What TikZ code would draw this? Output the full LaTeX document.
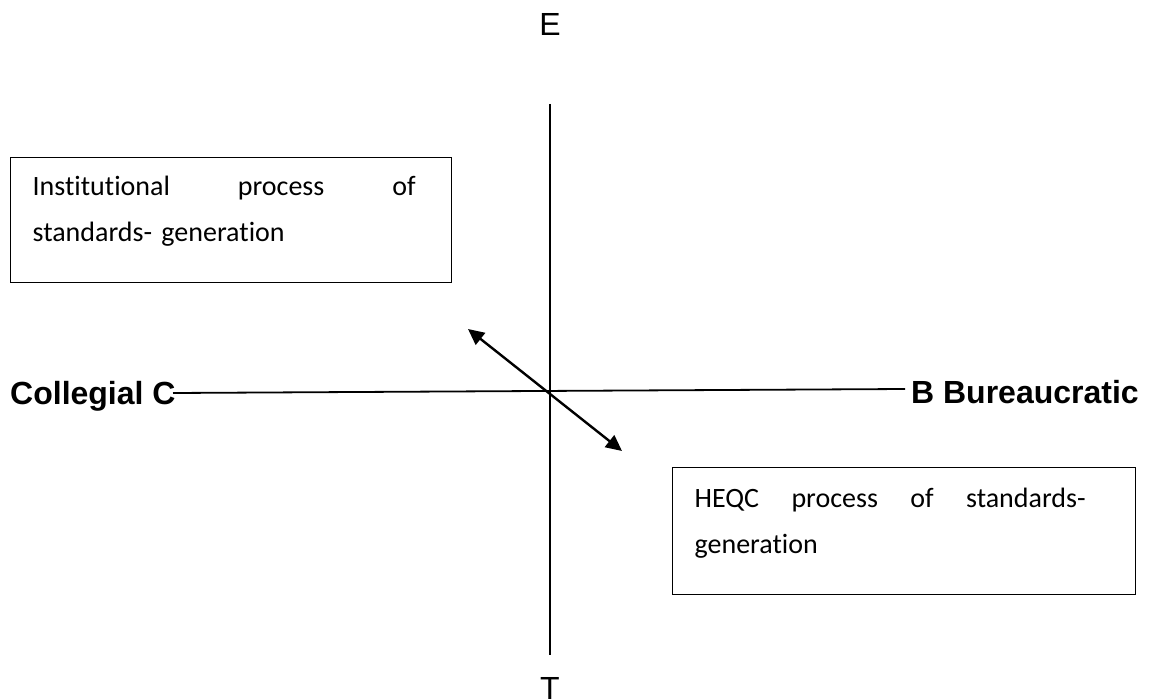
\documentclass[tikz,border=0pt]{standalone}
\usepackage{fontspec}
\setmainfont[Ligatures=NoCommon]{Carlito}
\newfontfamily\arialf{Liberation Sans}
\usetikzlibrary{arrows.meta}
\begin{document}
\begin{tikzpicture}[x=1pt,y=1pt,
  axis/.style={line width=1.8pt},
  dirarrow/.style={line width=2.4pt,{Triangle[length=16pt,width=15pt]}-{Triangle[length=16pt,width=15pt]}},
  poleLabel/.style={font=\arialf\bfseries\fontsize{32}{38}\selectfont,inner sep=0pt},
  endLabel/.style={font=\arialf\fontsize{32}{36}\selectfont,inner sep=0pt},
  textbox/.style={draw,line width=1.3pt,anchor=north west,inner xsep=22pt,inner ysep=0pt,
    font=\fontsize{28}{46}\selectfont,text depth=87pt}
]
\useasboundingbox (0,0) rectangle (1150,-700);

% axis end labels
\node[endLabel,anchor=base] (E) at (550,-36) {E};
\node[endLabel,anchor=base] (T) at (550,-699) {T};
\node[poleLabel,anchor=base west] (C) at (10,-404) {Collegial C};
\node[poleLabel,anchor=base east] (B) at (1139,-403) {B Bureaucratic};

% axes
\coordinate (vtop) at (550,-104);
\coordinate (vbot) at (550,-655);
\coordinate (hleft) at (173,-393);
\coordinate (hright) at (905,-389);
\draw[axis] (vtop) -- (vbot);
\draw[axis] (hleft) -- (hright);

% double arrow
\coordinate (aul) at (468,-329);
\coordinate (alr) at (622,-451);
\draw[dirarrow] (aul) -- (alr);

% boxes
\node[textbox,text width=397pt,text height=38pt] (inst) at (10,-157)
  {\rightskip=14pt\relax Institutional\hfill process\hfill of\\standards- generation};
\node[textbox,text width=419pt,text height=40pt] (heqc) at (672,-467)
  {\rightskip=28pt\relax HEQC\hfill process\hfill of\hfill standards-\\generation};
\end{tikzpicture}
\end{document}
